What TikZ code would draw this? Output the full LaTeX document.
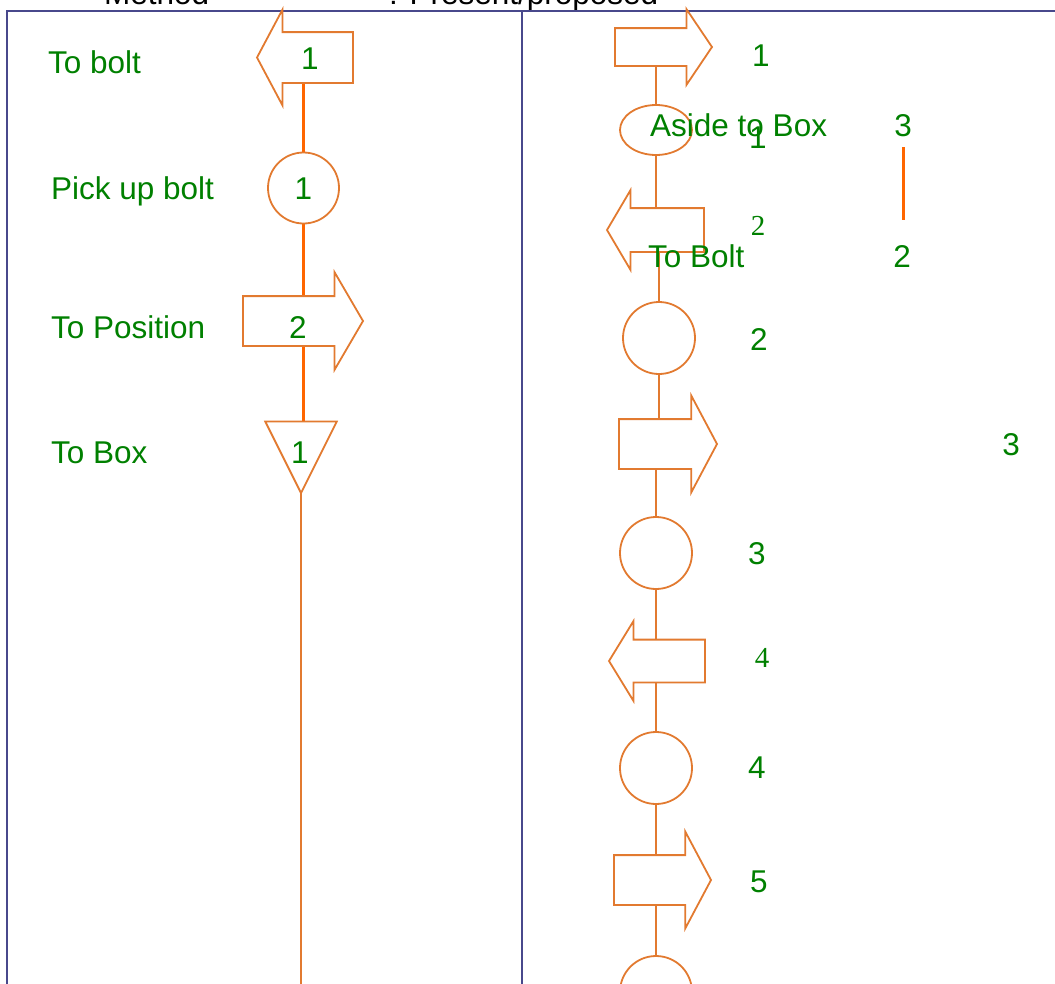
\documentclass[tikz,border=0pt]{standalone}
\usepackage{fontspec}
\setmainfont{Liberation Sans}
\newfontfamily\serifdigits{Liberation Serif}
\usetikzlibrary{shapes.arrows,shapes.geometric,backgrounds}
\definecolor{chartorange}{RGB}{226,122,48}
\definecolor{linkorange}{RGB}{255,102,0}
\definecolor{labelgreen}{RGB}{0,128,0}
\definecolor{framecol}{RGB}{72,72,140}
\begin{document}
\begin{tikzpicture}[x=1pt,y=-1pt,
	every node/.style={font=\fontsize{31.5}{36}\selectfont},
	sym/.style={draw=chartorange,line width=1.8pt,fill=white,inner sep=0pt,outer sep=0pt},
	rarrow/.style={sym,single arrow,minimum width=0pt,inner xsep=0pt,anchor=tip},
	larrow/.style={rarrow,shape border rotate=180},
	op/.style={sym,circle,minimum size=72pt},
	lbl/.style={text=labelgreen,anchor=base west,inner sep=0pt},
	num/.style={text=labelgreen,anchor=base,inner sep=0pt},
	snum/.style={num,font=\serifdigits\fontsize{29}{34}\selectfont},
	link/.style={draw=linkorange,line width=3pt},
	thinlink/.style={draw=chartorange,line width=1.8pt},
	frame/.style={draw=framecol,line width=1.3pt}]
	\useasboundingbox (0,0) rectangle (1055,983);
	\node[anchor=base west,inner sep=0pt] (hmethod) at (104,4) {Method};
	\node[anchor=base west,inner sep=0pt] (hpresent) at (389,4) {: Present/proposed};
	\draw[frame] (7,1000) -- (7,11) -- (1070,11);
	\draw[frame] (522,11) -- (522,1000);
	% present method
	\node[larrow,inner ysep=24.5pt,single arrow head extend=22.5pt,single arrow tip angle=124,minimum height=96pt] (tobolt) at (257,57.5) {};
	\node[op,minimum size=71pt] (pick) at (303.5,188) {};
	\node[rarrow,inner ysep=24pt,single arrow head extend=24pt,single arrow tip angle=119.5,minimum height=120pt] (topos) at (363,321) {};
	\node[sym,isosceles triangle,isosceles triangle stretches,shape border rotate=-90,minimum width=71.5pt,minimum height=71.5pt,anchor=apex] (tobox) at (301,493) {};
	\coordinate (leftend) at (301,995);
	\node[lbl] (ltobolt) at (48,73) {To bolt};
	\node[lbl] (lpick) at (51,199) {Pick up bolt};
	\node[lbl] (ltopos) at (51,338) {To Position};
	\node[lbl] (ltobox) at (51,463) {To Box};
	\node[num] (ntobolt) at (310,69) {1};
	\node[num] (npick) at (303.5,199) {1};
	\node[num] (ntopos) at (298,338) {2};
	\node[num] (ntobox) at (300,463) {1};
	% proposed method
	\node[rarrow,inner ysep=18pt,single arrow head extend=19pt,single arrow tip angle=112,minimum height=97pt] (ra1) at (712,47) {};
	\node[sym,ellipse,minimum width=72pt,minimum height=50pt] (e1) at (656,130) {};
	\node[larrow,inner ysep=21pt,single arrow head extend=18pt,single arrow tip angle=119,minimum height=97pt] (la2) at (607,230) {};
	\node[op] (c2) at (659,338) {};
	\node[rarrow,inner ysep=24pt,single arrow head extend=23.5pt,single arrow tip angle=124,minimum height=98pt] (ra3) at (717,444) {};
	\node[op] (c3) at (656,553) {};
	\node[larrow,inner ysep=20.5pt,single arrow head extend=18.5pt,single arrow tip angle=117,minimum height=96pt] (la4) at (609,661) {};
	\node[op] (c4) at (656,768) {};
	\node[rarrow,inner ysep=24pt,single arrow head extend=23.5pt,single arrow tip angle=124,minimum height=97pt] (ra5) at (711,880) {};
	\node[op] (c5) at (656,992) {};
	\coordinate (ticktop) at (903,147);
	\coordinate (tickbot) at (903,220);
	\draw[link] (ticktop) -- (tickbot);
	\node[num] (nra1) at (761,66) {1};
	\node[num] (ne1) at (758,148) {1};
	\node[lbl] (laside) at (650,136) {Aside to Box};
	\node[num] (naside) at (903,136) {3};
	\node[snum] (nla2) at (758,235) {2};
	\node[lbl] (ltob) at (648,267) {To Bolt};
	\node[num] (ntob) at (902,267) {2};
	\node[num] (nc2) at (759,350) {2};
	\node[num] (nra3) at (1011,455) {3};
	\node[num] (nc3) at (757,564) {3};
	\node[snum] (nla4) at (762,667) {4};
	\node[num] (nc4) at (757,778) {4};
	\node[num] (nra5) at (759,892) {5};
	\begin{pgfonlayer}{background}
		\draw[link] (pick.north) -- (pick.north |- tobolt.center);
		\draw[link] (pick.south) -- (pick.south |- topos.center);
		\draw[link] (pick.south |- topos.center) -- (pick.south |- tobox.center);
		\draw[thinlink] (tobox.apex) -- (tobox.apex |- leftend);
		\draw[thinlink] (e1.north |- ra1.center) -- (e1.north);
		\draw[thinlink] (e1.south) -- (e1.south |- la2.center);
		\draw[thinlink] (c2.north |- la2.center) -- (c2.north);
		\draw[thinlink] (c2.south) -- (c2.south |- ra3.center);
		\draw[thinlink] (c3.north |- ra3.center) -- (c3.north);
		\draw[thinlink] (c3.south) -- (c3.south |- la4.center);
		\draw[thinlink] (c4.north |- la4.center) -- (c4.north);
		\draw[thinlink] (c4.south) -- (c4.south |- ra5.center);
		\draw[thinlink] (c5.north |- ra5.center) -- (c5.north);
	\end{pgfonlayer}
\end{tikzpicture}
\end{document}
